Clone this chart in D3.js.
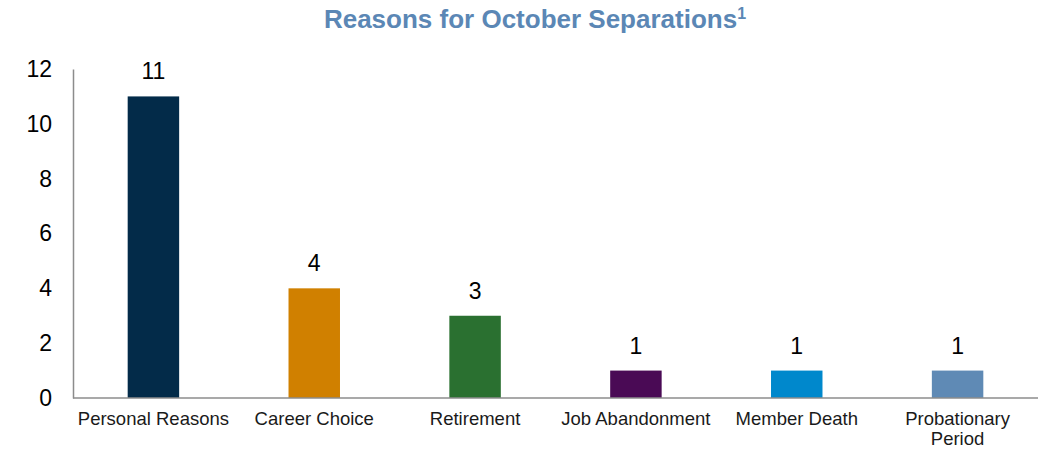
<!DOCTYPE html>
<html>
<head>
<meta charset="utf-8">
<script src="https://cdn.jsdelivr.net/npm/d3@7"></script>
<style>
  body { margin: 0; background: #fff; }
  svg { font-family: "Liberation Sans", Arial, sans-serif; }
</style>
</head>
<body>
<div id="chart"></div>
<script>
// Chart data
const categories = ['Personal Reasons', 'Career Choice', 'Retirement', 'Job Abandonment', 'Member Death', 'Probationary Period'];
const values = [11, 4, 3, 1, 1, 1];
const barColors = ['#032b49', '#d08000', '#2a7030', '#4a0a55', '#0088cc', '#5f8ab5'];
const yTicks = [0, 2, 4, 6, 8, 10, 12];

const width = 1046, height = 449;
const margin = { top: 69, right: 8, bottom: 51, left: 73 };

const svg = d3.select('#chart')
    .append('svg')
    .attr('width', width)
    .attr('height', height);

// Title with superscript
const title = svg.append('text')
    .attr('x', 535)
    .attr('y', 28)
    .attr('text-anchor', 'middle')
    .style('font-size', '26px')
    .style('font-weight', 'bold')
    .style('fill', '#5b87b5');
title.append('tspan').text('Reasons for October Separations');
title.append('tspan').attr('dy', -9).style('font-size', '16px').text('1');

const x = d3.scaleBand()
    .domain(categories)
    .range([margin.left, width - margin.right])
    .paddingInner(0.68)
    .paddingOuter(0.34);

const y = d3.scaleLinear()
    .domain([0, 12])
    .range([height - margin.bottom, margin.top]);

// Y axis
const yAxis = svg.append('g')
    .attr('transform', `translate(${margin.left},0)`)
    .call(d3.axisLeft(y).tickValues(yTicks).tickSize(0).tickPadding(21));
yAxis.select('.domain').attr('stroke', '#8c8c8c').attr('stroke-width', 1.5);
yAxis.selectAll('text').style('font-size', '23px').style('fill', '#000')
    .attr('font-family', null);

// Bars
svg.append('g').selectAll('rect')
    .data(values)
    .enter()
    .append('rect')
    .attr('x', (d, i) => x(categories[i]))
    .attr('y', d => y(d))
    .attr('width', x.bandwidth())
    .attr('height', d => y(0) - y(d))
    .attr('fill', (d, i) => barColors[i]);

// Value labels
svg.append('g').selectAll('text')
    .data(values)
    .enter()
    .append('text')
    .attr('x', (d, i) => x(categories[i]) + x.bandwidth() / 2)
    .attr('y', d => y(d) - 17)
    .attr('text-anchor', 'middle')
    .style('font-size', '23px')
    .style('fill', '#000')
    .text(d => d);

// X axis line
svg.append('line')
    .attr('x1', margin.left)
    .attr('x2', width - margin.right)
    .attr('y1', y(0))
    .attr('y2', y(0))
    .attr('stroke', '#8c8c8c')
    .attr('stroke-width', 1.5);

// Category labels (wrap long ones)
const wrapLabels = { 'Probationary Period': ['Probationary', 'Period'] };
const catLabels = svg.append('g').selectAll('text')
    .data(categories)
    .enter()
    .append('text')
    .attr('x', d => x(d) + x.bandwidth() / 2)
    .attr('y', y(0) + 27)
    .attr('text-anchor', 'middle')
    .style('font-size', '18.5px')
    .style('fill', '#1a1a1a');
catLabels.each(function(d) {
    const lines = wrapLabels[d] || [d];
    const t = d3.select(this);
    lines.forEach((line, i) => {
        t.append('tspan')
            .attr('x', x(d) + x.bandwidth() / 2)
            .attr('dy', i === 0 ? 0 : 20)
            .text(line);
    });
});
</script>
</body>
</html>
